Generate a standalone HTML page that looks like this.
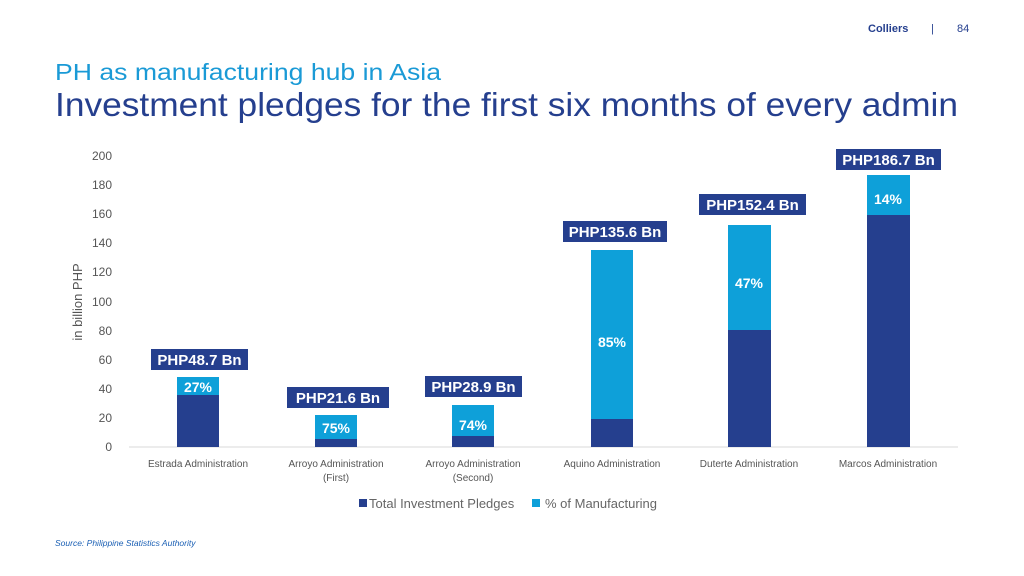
<!DOCTYPE html>
<html><head><meta charset="utf-8"><style>
html,body{margin:0;padding:0;background:#fff;}
svg{display:block;font-family:"Liberation Sans",sans-serif;}
</style></head><body>
<svg width="1024" height="576" viewBox="0 0 1024 576">
<text x="868" y="32" font-size="11" font-weight="bold" fill="#253f8e">Colliers</text>
<text x="931" y="32" font-size="11" fill="#253f8e">|</text>
<text x="957" y="32" font-size="11" fill="#253f8e">84</text>
<text x="55" y="80" font-size="23" fill="#1a9ad6" textLength="386" lengthAdjust="spacingAndGlyphs">PH as manufacturing hub in Asia</text>
<text x="55" y="116" font-size="33" fill="#253f8e" textLength="903" lengthAdjust="spacingAndGlyphs">Investment pledges for the first six months of every admin</text>
<g font-size="12" fill="#555" text-anchor="end">
<text x="112" y="451">0</text><text x="112" y="422">20</text><text x="112" y="393">40</text><text x="112" y="364">60</text><text x="112" y="335">80</text><text x="112" y="306">100</text><text x="112" y="276">120</text><text x="112" y="247">140</text><text x="112" y="218">160</text><text x="112" y="189">180</text><text x="112" y="160">200</text>
</g>
<text transform="translate(82,302) rotate(-90)" font-size="13" fill="#555" text-anchor="middle">in billion PHP</text>
<line x1="129" y1="447" x2="958" y2="447" stroke="#d9d9d9" stroke-width="1"/>
<g>
<rect x="177" y="377" width="42" height="18" fill="#0ea0d9"/><rect x="177" y="395" width="42" height="52" fill="#253f8e"/>
<rect x="315" y="415" width="42" height="24" fill="#0ea0d9"/><rect x="315" y="439" width="42" height="8" fill="#253f8e"/>
<rect x="452" y="405" width="42" height="31" fill="#0ea0d9"/><rect x="452" y="436" width="42" height="11" fill="#253f8e"/>
<rect x="591" y="250" width="42" height="169" fill="#0ea0d9"/><rect x="591" y="419" width="42" height="28" fill="#253f8e"/>
<rect x="728" y="225" width="43" height="105" fill="#0ea0d9"/><rect x="728" y="330" width="43" height="117" fill="#253f8e"/>
<rect x="867" y="175" width="43" height="40" fill="#0ea0d9"/><rect x="867" y="215" width="43" height="232" fill="#253f8e"/>
</g>
<g fill="#253f8e">
<rect x="151" y="349" width="97" height="21"/>
<rect x="287" y="387" width="102" height="21"/>
<rect x="425" y="376" width="97" height="21"/>
<rect x="563" y="221" width="104" height="21"/>
<rect x="699" y="194" width="107" height="21"/>
<rect x="836" y="149" width="105" height="21"/>
</g>
<g font-size="15" font-weight="bold" fill="#fff" text-anchor="middle">
<text x="199.5" y="365">PHP48.7 Bn</text>
<text x="338" y="403">PHP21.6 Bn</text>
<text x="473.5" y="392">PHP28.9 Bn</text>
<text x="615" y="237">PHP135.6 Bn</text>
<text x="752.5" y="210">PHP152.4 Bn</text>
<text x="888.5" y="165">PHP186.7 Bn</text>
<g font-size="14">
<text x="198" y="392">27%</text>
<text x="336" y="433">75%</text>
<text x="473" y="430">74%</text>
<text x="612" y="347">85%</text>
<text x="749" y="288">47%</text>
<text x="888" y="204">14%</text>
</g>
</g>
<g font-size="10" fill="#555" text-anchor="middle">
<text x="198" y="467">Estrada Administration</text>
<text x="336" y="467">Arroyo Administration</text><text x="336" y="481">(First)</text>
<text x="473" y="467">Arroyo Administration</text><text x="473" y="481">(Second)</text>
<text x="612" y="467">Aquino Administration</text>
<text x="749" y="467">Duterte Administration</text>
<text x="888" y="467">Marcos Administration</text>
</g>
<rect x="359" y="499" width="8" height="8" fill="#253f8e"/>
<text x="369" y="508" font-size="13" fill="#666">Total Investment Pledges</text>
<rect x="532" y="499" width="8" height="8" fill="#0ea0d9"/>
<text x="545" y="508" font-size="13" fill="#666">% of Manufacturing</text>
<text x="55" y="546" font-size="8.5" font-style="italic" fill="#1a5fb4">Source: Philippine Statistics Authority</text>
</svg>
</body></html>
